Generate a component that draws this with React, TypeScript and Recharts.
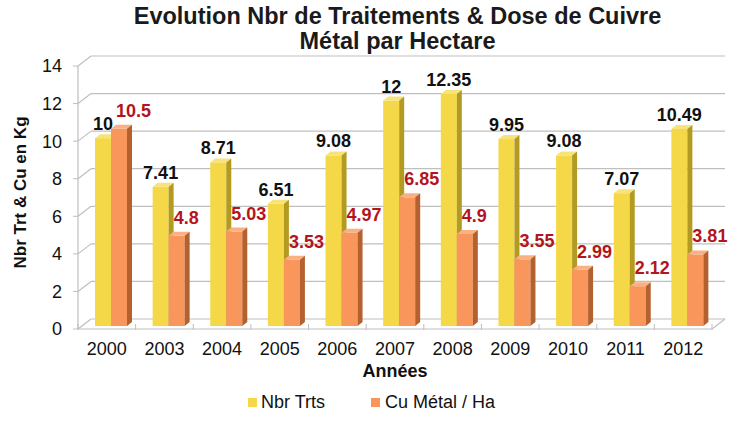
import React from 'react';
import { BarChart, Bar, XAxis, YAxis, CartesianGrid, Legend, ReferenceLine, LabelList } from 'recharts';

const years = ['2000', '2003', '2004', '2005', '2006', '2007', '2008', '2009', '2010', '2011', '2012'];
const nbrTrts = [10, 7.41, 8.71, 6.51, 9.08, 12, 12.35, 9.95, 9.08, 7.07, 10.49];
const cuMetal = [10.5, 4.8, 5.03, 3.53, 4.97, 6.85, 4.9, 3.55, 2.99, 2.12, 3.81];
const yTicks = [0, 2, 4, 6, 8, 10, 12, 14];

const data = years.map((y, i) => ({ year: y, nbr: nbrTrts[i], cu: cuMetal[i] }));

const FONT = '"Liberation Sans", Arial, sans-serif';
const GRID = '#BFBFBF';
const DX = 13; // back wall offset
const DY = 10;
const BX = 4; // bar shift (bars at mid depth)
const BY = 3;
const SD = 5; // bar depth
const SE = 4;

const YEL = { front: '#F5D847', top: '#F7E37A', side: '#B39B22' };
const ORA = { front: '#F8965C', top: '#F9B184', side: '#B5602F' };

const make3D = (c: { front: string; top: string; side: string }) => (props: any) => {
  const { x, y, width, height } = props;
  if (width == null || height == null) return null;
  const X = x + BX;
  const Y = y - BY;
  const w = width;
  const h = height;
  return (
    <g>
      <rect x={X} y={Y} width={w} height={h} fill={c.front} />
      <polygon points={`${X},${Y} ${X + SD},${Y - SE} ${X + w + SD},${Y - SE} ${X + w},${Y}`} fill={c.top} />
      <polygon
        points={`${X + w},${Y} ${X + w + SD},${Y - SE} ${X + w + SD},${Y + h - SE} ${X + w},${Y + h}`}
        fill={c.side}
      />
    </g>
  );
};

const yellowLabel = (p: any) => (
  <text
    x={p.x + BX + p.width / 2}
    y={p.y - BY - 8}
    textAnchor="middle"
    fontFamily={FONT}
    fontWeight="bold"
    fontSize={18}
    fill="#111"
  >
    {p.value}
  </text>
);

const orangeLabel = (p: any) => (
  <text
    x={p.x + BX + 5}
    y={p.y - BY - 12}
    textAnchor="start"
    fontFamily={FONT}
    fontWeight="bold"
    fontSize={18}
    fill="#B3151C"
  >
    {p.value}
  </text>
);

const XTick = (p: any) => {
  const { x, payload } = p;
  const half = payload && payload.offset ? payload.offset : 28.8;
  const isLast = payload.value === years[years.length - 1];
  return (
    <g>
      <line x1={x - half} y1={324} x2={x - half} y2={330} stroke={GRID} />
      {isLast && <line x1={x + half} y1={324} x2={x + half} y2={330} stroke={GRID} />}
      <text x={x} y={355} textAnchor="middle" fontFamily={FONT} fontSize={18} fill="#111">
        {payload.value}
      </text>
    </g>
  );
};

const gridLine = (p: any) => (
  <g key={p.key}>
    <line x1={p.x1} y1={p.y1} x2={p.x1 + DX} y2={p.y1 - DY} stroke={GRID} strokeWidth={1.2} />
    <line x1={p.x1 + DX} y1={p.y1 - DY} x2={p.x2 + DX} y2={p.y2 - DY} stroke={GRID} strokeWidth={1.2} />
  </g>
);

const floorShape = (p: any) => (
  <line x1={p.x2} y1={p.y1} x2={p.x2 + DX} y2={p.y1 - DY} stroke={GRID} strokeWidth={1.2} />
);

const LegendContent = () => (
  <div
    style={{
      display: 'flex',
      justifyContent: 'center',
      alignItems: 'center',
      gap: 46,
      fontFamily: FONT,
      fontSize: 18,
      color: '#111',
      marginLeft: 0,
    }}
  >
    <div style={{ display: 'flex', alignItems: 'center' }}>
      <span style={{ width: 9, height: 9, background: YEL.front, display: 'inline-block', marginRight: 4 }} />
      <span>Nbr Trts</span>
    </div>
    <div style={{ display: 'flex', alignItems: 'center' }}>
      <span style={{ width: 9, height: 9, background: ORA.front, display: 'inline-block', marginRight: 5 }} />
      <span>Cu Métal / Ha</span>
    </div>
  </div>
);

export default function App() {
  return (
    <div style={{ position: 'absolute', left: 0, top: 0, width: 743, height: 421, background: '#fff' }}>
      <div
        style={{
          position: 'absolute',
          left: 0,
          top: 4,
          width: 795,
          textAlign: 'center',
          fontFamily: FONT,
          fontWeight: 'bold',
          fontSize: 23.5,
          lineHeight: '25px',
          color: '#1a1a1a',
          zIndex: 2,
        }}
      >
        <div>Evolution Nbr de Traitements &amp; Dose de Cuivre</div>
        <div>Métal par Hectare</div>
      </div>
      <BarChart
        width={743}
        height={421}
        data={data}
        margin={{ top: 66, right: 31, bottom: 21, left: 0 }}
        barSize={16}
        barGap={0}
      >
        <CartesianGrid vertical={false} horizontal={gridLine} />
        <XAxis
          dataKey="year"
          tick={XTick}
          tickLine={false}
          axisLine={{ stroke: GRID, strokeWidth: 1.2 }}
          height={50}
          interval={0}
          label={{
            content: (lp: any) => {
              const vb = lp.viewBox || { x: 78, y: 324, width: 634 };
              return (
                <text
                  x={vb.x + vb.width / 2}
                  y={377}
                  textAnchor="middle"
                  fontFamily={FONT}
                  fontWeight="bold"
                  fontSize={18}
                  fill="#111"
                >
                  Années
                </text>
              );
            },
          }}
        />
        <YAxis
          domain={[0, 14]}
          ticks={yTicks}
          width={78}
          tickSize={5}
          tickMargin={11}
          tickLine={{ stroke: GRID }}
          axisLine={{ stroke: GRID, strokeWidth: 1.2 }}
          tick={{ fontFamily: FONT, fontSize: 18, fill: '#111' }}
          label={{
            content: (lp: any) => {
              const vb = lp.viewBox || { x: 0, y: 66, width: 78, height: 258 };
              const cy = vb.y + vb.height / 2 - 5;
              return (
                <text
                  x={20}
                  y={cy}
                  transform={`rotate(-90 20 ${cy})`}
                  textAnchor="middle"
                  dominantBaseline="central"
                  fontFamily={FONT}
                  fontWeight="bold"
                  fontSize={17}
                  fill="#111"
                >
                  Nbr Trt &amp; Cu en Kg
                </text>
              );
            },
          }}
        />
        <ReferenceLine y={0} shape={floorShape} />
        <Legend wrapperStyle={{ top: 392, left: 0, width: 743 }} content={LegendContent} />
        <Bar dataKey="nbr" name="Nbr Trts" fill={YEL.front} shape={make3D(YEL)} isAnimationActive={false}>
          <LabelList dataKey="nbr" content={yellowLabel} />
        </Bar>
        <Bar dataKey="cu" name="Cu Métal / Ha" fill={ORA.front} shape={make3D(ORA)} isAnimationActive={false}>
          <LabelList dataKey="cu" content={orangeLabel} />
        </Bar>
      </BarChart>
    </div>
  );
}
